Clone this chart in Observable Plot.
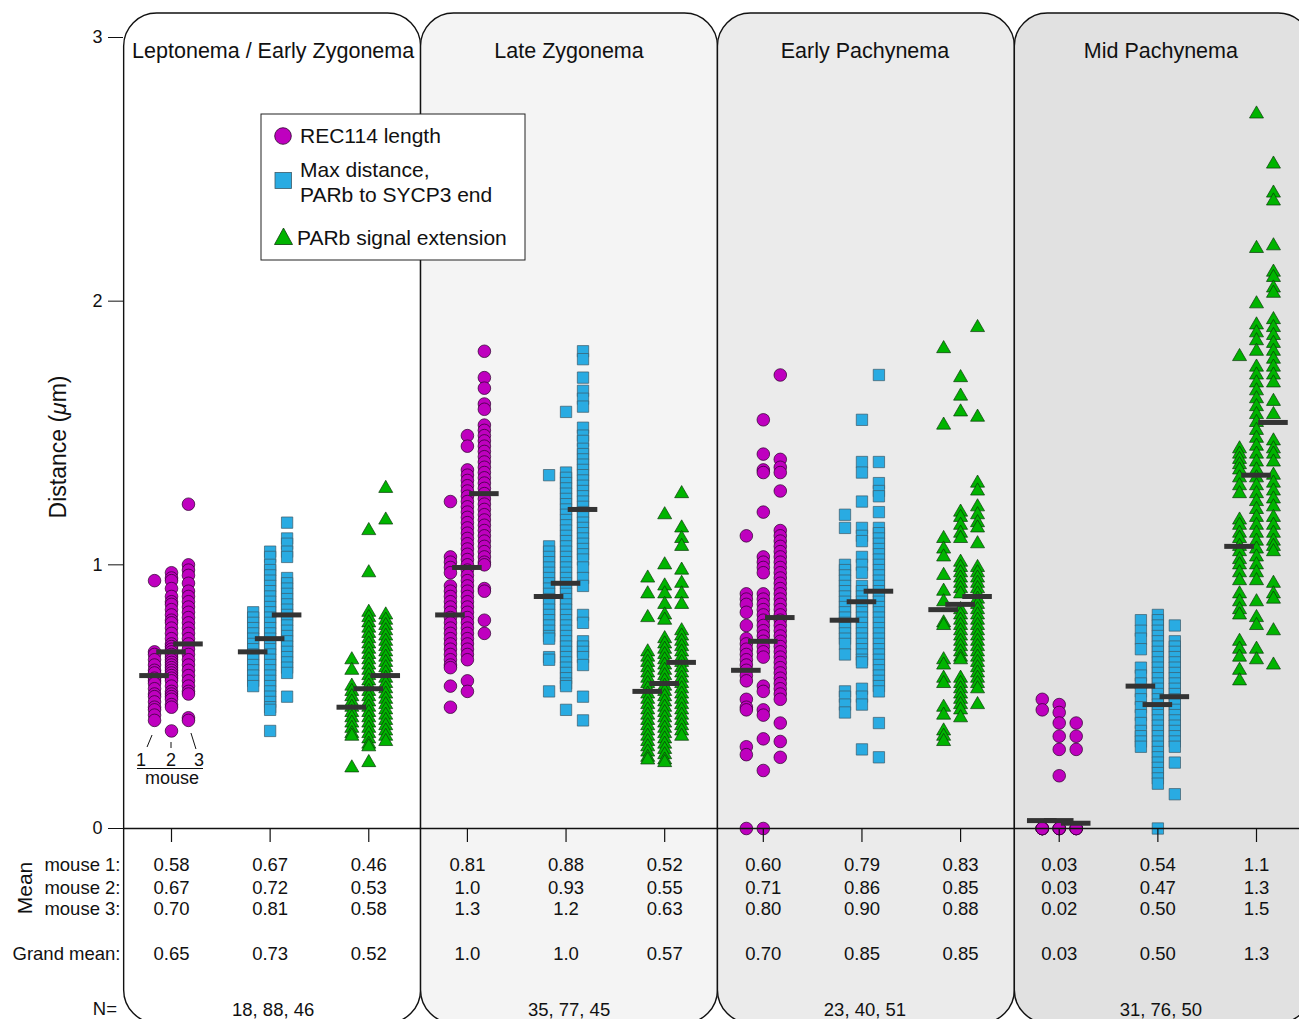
<!DOCTYPE html>
<html>
<head>
<meta charset="utf-8">
<script src="https://cdn.jsdelivr.net/npm/d3@7"></script>
<script src="https://cdn.jsdelivr.net/npm/@observablehq/plot@0.6"></script>
<style>
  html, body { margin: 0; padding: 0; background: #fff; }
  #chart svg { display: block; }
</style>
</head>
<body>
<div id="chart"></div>
<script>
// ---------------- DATA ----------------
const stages = ["Leptonema / Early Zygonema", "Late Zygonema", "Early Pachynema", "Mid Pachynema"];
const measures = ["REC114 length", "Max distance, PARb to SYCP3 end", "PARb signal extension"];
const nLabels = ["18, 88, 46", "35, 77, 45", "23, 40, 51", "31, 76, 50"];
const panelFill = ["#ffffff", "#f4f4f4", "#ebebeb", "#e1e1e1"];

// Each array: [mouse 1 values, mouse 2 values, mouse 3 values] (µm)
const lepREC = [
  [0.94,0.67,0.66,0.64,0.62,0.60,0.59,0.57,0.56,0.55,0.53,0.51,0.50,0.48,0.46,0.45,0.43,0.41],
  [0.97,0.95,0.94,0.91,0.88,0.86,0.85,0.83,0.81,0.79,0.78,0.76,0.74,0.72,0.70,0.69,0.68,0.67,0.66,0.65,0.64,0.63,0.62,0.61,0.60,0.59,0.58,0.57,0.56,0.54,0.52,0.51,0.50,0.49,0.47,0.46,0.37],
  [1.23,1.00,0.98,0.96,0.93,0.90,0.88,0.86,0.84,0.82,0.80,0.78,0.76,0.74,0.72,0.70,0.68,0.66,0.64,0.62,0.60,0.58,0.56,0.54,0.52,0.51,0.42,0.41]
];
const lepSQ = [
  [0.82,0.80,0.78,0.76,0.74,0.72,0.70,0.68,0.66,0.64,0.62,0.60,0.58,0.56,0.54],
  [1.05,1.03,1.00,0.98,0.96,0.94,0.92,0.90,0.88,0.86,0.84,0.82,0.80,0.78,0.76,0.74,0.72,0.70,0.68,0.66,0.64,0.62,0.60,0.58,0.56,0.54,0.52,0.50,0.48,0.46,0.45,0.37],
  [1.16,1.10,1.08,1.05,1.03,0.95,0.93,0.91,0.89,0.87,0.85,0.83,0.81,0.79,0.77,0.75,0.73,0.71,0.69,0.67,0.65,0.63,0.61,0.59,0.50]
];
const lepTR = [
  [0.64,0.60,0.54,0.52,0.50,0.48,0.46,0.44,0.42,0.40,0.38,0.36,0.35,0.23],
  [1.13,0.97,0.82,0.80,0.78,0.76,0.74,0.72,0.70,0.68,0.66,0.64,0.62,0.60,0.58,0.56,0.54,0.52,0.50,0.48,0.46,0.44,0.42,0.40,0.38,0.36,0.34,0.32,0.31,0.25],
  [1.29,1.17,0.81,0.79,0.77,0.75,0.73,0.71,0.69,0.67,0.65,0.63,0.61,0.59,0.57,0.55,0.53,0.51,0.49,0.47,0.45,0.43,0.41,0.39,0.37,0.35,0.33]
];
const lzREC = [
  [1.24,1.03,1.01,0.99,0.97,0.92,0.90,0.88,0.86,0.84,0.82,0.80,0.78,0.76,0.74,0.72,0.70,0.68,0.66,0.64,0.62,0.61,0.54,0.46],
  [1.49,1.45,1.36,1.34,1.32,1.30,1.28,1.26,1.24,1.22,1.20,1.18,1.16,1.14,1.12,1.10,1.08,1.06,1.04,1.02,1.00,0.98,0.96,0.94,0.92,0.90,0.88,0.86,0.84,0.82,0.80,0.78,0.76,0.74,0.72,0.70,0.68,0.66,0.64,0.56,0.52],
  [1.81,1.71,1.67,1.61,1.59,1.53,1.51,1.49,1.47,1.45,1.43,1.41,1.39,1.37,1.35,1.33,1.31,1.29,1.27,1.25,1.23,1.21,1.19,1.17,1.15,1.13,1.11,1.09,1.07,1.05,1.03,1.01,1.00,0.91,0.90,0.79,0.74]
];
const lzSQ = [
  [1.34,1.07,1.05,1.03,1.01,0.99,0.97,0.95,0.93,0.91,0.89,0.87,0.85,0.83,0.81,0.79,0.77,0.75,0.73,0.72,0.65,0.64,0.52],
  [1.58,1.35,1.33,1.31,1.29,1.27,1.25,1.23,1.21,1.19,1.17,1.15,1.13,1.11,1.09,1.07,1.05,1.03,1.01,0.99,0.97,0.95,0.93,0.91,0.89,0.87,0.85,0.83,0.81,0.79,0.77,0.75,0.73,0.71,0.69,0.67,0.65,0.63,0.61,0.59,0.57,0.55,0.54,0.45],
  [1.81,1.78,1.71,1.66,1.63,1.60,1.52,1.49,1.47,1.44,1.42,1.40,1.38,1.36,1.34,1.32,1.30,1.28,1.26,1.24,1.22,1.20,1.18,1.16,1.14,1.12,1.10,1.08,1.06,1.04,1.02,0.99,0.95,0.92,0.81,0.78,0.71,0.69,0.67,0.65,0.62,0.50,0.41]
];
const lzTR = [
  [0.95,0.89,0.80,0.67,0.65,0.63,0.61,0.59,0.57,0.55,0.53,0.51,0.49,0.47,0.45,0.43,0.41,0.39,0.37,0.35,0.33,0.31,0.29,0.27,0.26],
  [1.19,1.00,0.92,0.89,0.85,0.81,0.79,0.72,0.70,0.68,0.66,0.64,0.62,0.60,0.58,0.56,0.54,0.52,0.50,0.48,0.46,0.44,0.42,0.40,0.38,0.36,0.34,0.32,0.30,0.28,0.26,0.25],
  [1.27,1.14,1.10,1.07,0.98,0.93,0.89,0.85,0.75,0.73,0.71,0.69,0.67,0.65,0.63,0.61,0.59,0.57,0.55,0.53,0.51,0.49,0.47,0.45,0.43,0.41,0.39,0.37,0.35]
];
const epREC = [
  [1.11,0.89,0.87,0.85,0.82,0.77,0.72,0.70,0.68,0.66,0.64,0.62,0.60,0.58,0.56,0.49,0.46,0.45,0.31,0.28,0.00],
  [1.55,1.42,1.36,1.35,1.20,1.03,1.01,0.99,0.97,0.89,0.87,0.85,0.83,0.81,0.79,0.77,0.75,0.73,0.71,0.69,0.67,0.65,0.54,0.52,0.45,0.43,0.34,0.22,0.00],
  [1.72,1.40,1.37,1.35,1.28,1.13,1.11,1.09,1.07,1.05,1.03,1.01,0.99,0.97,0.95,0.93,0.91,0.89,0.87,0.85,0.83,0.81,0.79,0.77,0.75,0.73,0.71,0.69,0.67,0.65,0.63,0.61,0.59,0.57,0.55,0.53,0.51,0.49,0.40,0.33,0.27]
];
const epSQ = [
  [1.19,1.14,1.00,0.98,0.96,0.94,0.92,0.90,0.88,0.86,0.84,0.82,0.80,0.78,0.76,0.74,0.72,0.70,0.66,0.52,0.50,0.47,0.44],
  [1.55,1.39,1.35,1.24,1.14,1.11,1.09,1.03,1.00,0.97,0.92,0.90,0.88,0.86,0.84,0.82,0.80,0.78,0.76,0.74,0.72,0.70,0.68,0.66,0.64,0.63,0.53,0.50,0.47,0.30],
  [1.72,1.39,1.31,1.28,1.26,1.20,1.14,1.12,1.10,1.08,1.06,1.04,1.02,1.00,0.98,0.96,0.94,0.92,0.90,0.88,0.86,0.84,0.82,0.80,0.78,0.76,0.74,0.72,0.70,0.68,0.66,0.64,0.62,0.60,0.58,0.56,0.54,0.52,0.40,0.27]
];
const epTR = [
  [1.82,1.53,1.10,1.06,1.03,0.96,0.90,0.86,0.78,0.77,0.64,0.62,0.57,0.55,0.46,0.43,0.37,0.35,0.33],
  [1.71,1.64,1.58,1.20,1.18,1.15,1.12,1.10,1.01,0.99,0.97,0.95,0.93,0.91,0.89,0.83,0.81,0.79,0.77,0.75,0.73,0.71,0.69,0.67,0.65,0.64,0.57,0.55,0.53,0.51,0.49,0.47,0.45,0.42],
  [1.90,1.56,1.31,1.28,1.22,1.19,1.16,1.14,1.08,0.99,0.97,0.95,0.93,0.91,0.89,0.87,0.85,0.83,0.81,0.79,0.77,0.75,0.73,0.71,0.69,0.67,0.65,0.63,0.61,0.59,0.57,0.55,0.53,0.47]
];
const mpREC = [
  [0.49,0.45,0.00,0.00,0.00,0.00,0.00,0.00],
  [0.47,0.44,0.40,0.35,0.30,0.20,0.00,0.00,0.00,0.00],
  [0.40,0.35,0.30,0.00,0.00,0.00,0.00]
];
const mpSQ = [
  [0.79,0.75,0.72,0.68,0.61,0.58,0.55,0.52,0.49,0.46,0.43,0.40,0.37,0.35,0.33,0.31],
  [0.81,0.79,0.77,0.75,0.73,0.71,0.69,0.67,0.65,0.63,0.61,0.59,0.57,0.55,0.53,0.51,0.49,0.47,0.45,0.43,0.41,0.39,0.37,0.35,0.33,0.31,0.29,0.27,0.25,0.23,0.21,0.19,0.17,0.00],
  [0.77,0.71,0.69,0.67,0.65,0.63,0.61,0.59,0.57,0.55,0.53,0.51,0.49,0.47,0.45,0.43,0.41,0.39,0.37,0.35,0.33,0.31,0.25,0.13]
];
const mpTR = [
  [1.79,1.44,1.42,1.40,1.38,1.36,1.33,1.30,1.27,1.17,1.15,1.12,1.10,1.07,1.05,1.02,1.00,0.97,0.94,0.89,0.86,0.83,0.81,0.71,0.68,0.65,0.60,0.56],
  [2.71,2.20,1.99,1.91,1.88,1.85,1.81,1.75,1.72,1.69,1.66,1.63,1.60,1.57,1.54,1.51,1.48,1.45,1.42,1.39,1.36,1.33,1.30,1.27,1.24,1.21,1.18,1.15,1.12,1.09,1.06,1.03,1.00,0.97,0.94,0.86,0.80,0.77,0.68,0.64],
  [2.52,2.41,2.38,2.21,2.11,2.09,2.05,2.03,1.93,1.90,1.87,1.84,1.81,1.78,1.75,1.72,1.69,1.62,1.57,1.47,1.44,1.42,1.39,1.34,1.31,1.28,1.25,1.22,1.18,1.15,1.12,1.09,1.07,1.05,0.93,0.89,0.87,0.75,0.62]
];

// Per-group mouse means (for the bars), 12 groups: stage × measure
const meanBar1 = [0.58,0.67,0.46, 0.81,0.88,0.52, 0.60,0.79,0.83, 0.03,0.54,1.07];
const meanBar2 = [0.67,0.72,0.53, 0.99,0.93,0.55, 0.71,0.86,0.85, 0.03,0.47,1.34];
const meanBar3 = [0.70,0.81,0.58, 1.27,1.21,0.63, 0.80,0.90,0.88, 0.02,0.50,1.54];

// Table labels
const meanLab1 = ["0.58","0.67","0.46","0.81","0.88","0.52","0.60","0.79","0.83","0.03","0.54","1.1"];
const meanLab2 = ["0.67","0.72","0.53","1.0","0.93","0.55","0.71","0.86","0.85","0.03","0.47","1.3"];
const meanLab3 = ["0.70","0.81","0.58","1.3","1.2","0.63","0.80","0.90","0.88","0.02","0.50","1.5"];
const grandLab = ["0.65","0.73","0.52","1.0","1.0","0.57","0.70","0.85","0.85","0.03","0.50","1.3"];
const rowLabels = ["mouse 1:", "mouse 2:", "mouse 3:", "Grand mean:", "N="];

// ---------------- BUILD ----------------
const OFF = 0.172;          // mouse column offset (in group units)
const stageData = [[lepREC, lepSQ, lepTR], [lzREC, lzSQ, lzTR], [epREC, epSQ, epTR], [mpREC, mpSQ, mpTR]];
const pts = [];
stageData.forEach((st, s) => st.forEach((meas, m) => meas.forEach((vals, k) =>
  vals.forEach(v => pts.push({g: s * 3 + m, pos: s * 3 + m + (k - 1) * OFF, v, m})))));
const bars = [];
[meanBar1, meanBar2, meanBar3].forEach((arr, k) => arr.forEach((v, g) => bars.push({g, pos: g + (k - 1) * OFF, v})));
const groups = d3.range(12);
const edge = s => 3 * s - 0.48 + 0.01 * s;   // panel boundaries between stages
const panels = stages.map((name, s) => ({s, x1: edge(s), x2: edge(s + 1), fill: panelFill[s]}));

const FONT = "Liberation Sans, Arial, Helvetica, sans-serif";
const W = 1299, H = 1019;
const rowDy = [-149, -126, -104.5, -60, -4];

const chart = Plot.plot({
  width: W,
  height: H,
  marginTop: 13,
  marginBottom: 0,
  marginLeft: 123,
  marginRight: 0,
  style: {fontFamily: FONT, fontSize: "18px", color: "#111", background: "white"},
  x: {domain: [0, 11], range: [171, 1256], axis: null},
  y: {domain: [0, 3], range: [828, 37], ticks: 3, tickSize: 15, tickPadding: 6, label: null, tickFormat: d => String(d)},
  color: {type: "identity"},
  marks: [
    Plot.rect(panels, {x1: "x1", x2: "x2", fill: "fill", stroke: "#111", strokeWidth: 1.4, rx: 33, ry: 33, insetBottom: -4}),
    Plot.dot(pts.filter(d => d.m === 0), {x: "pos", y: "v", r: 6.3, fill: "#bf00bf", stroke: "#2a002a", strokeWidth: 0.7}),
    Plot.dot(pts.filter(d => d.m === 1), {x: "pos", y: "v", r: 6.4, symbol: "square", fill: "#29abe2", stroke: "#3c5a68", strokeWidth: 0.7}),
    Plot.dot(pts.filter(d => d.m === 2), {x: "pos", y: "v", r: 5.2, symbol: "triangle", fill: "#00b400", stroke: "#0b3a0b", strokeWidth: 0.7}),
    Plot.ruleY(bars, {y: "v", x1: d => d.pos - 0.15, x2: d => d.pos + 0.15, stroke: "#333", strokeWidth: 5}),
    Plot.ruleY([0], {stroke: "#111", strokeWidth: 1.4}),
    Plot.ruleX(groups, {x: d => d, y1: 0, y2: 0, insetBottom: -14, stroke: "#111", strokeWidth: 1.2}),
    // stage titles
    Plot.text(stages, {x: (d, i) => 3 * i + 1, text: d => d, frameAnchor: "top", dy: 29, dx: 3, fontSize: 21.5, fill: "#111"}),
    // mean table
    Plot.text(groups, {x: d => d, text: d => meanLab1[d], frameAnchor: "bottom", dy: rowDy[0], fontSize: 18.5, fill: "#111"}),
    Plot.text(groups, {x: d => d, text: d => meanLab2[d], frameAnchor: "bottom", dy: rowDy[1], fontSize: 18.5, fill: "#111"}),
    Plot.text(groups, {x: d => d, text: d => meanLab3[d], frameAnchor: "bottom", dy: rowDy[2], fontSize: 18.5, fill: "#111"}),
    Plot.text(groups, {x: d => d, text: d => grandLab[d], frameAnchor: "bottom", dy: rowDy[3], fontSize: 18.5, fill: "#111"}),
    Plot.text(nLabels, {x: (d, i) => 3 * i + 1, text: d => d, frameAnchor: "bottom", dy: rowDy[4], dx: 3, fontSize: 18.5, fill: "#111"}),
    Plot.text(rowLabels.slice(0, 4), {text: d => d, frameAnchor: "bottom-left", textAnchor: "end", dx: -3, fontSize: 18.5, fill: "#111"})
  ]
});

// Row-label offsets (Plot dy is constant per mark, so set per element)
d3.select(chart).selectAll("g[aria-label='text']").filter((d, i, n) => i === n.length - 1)
  .selectAll("text").each(function(d, i) {
    const t = d3.select(this);
    const tr = t.attr("transform") || "";
    t.attr("transform", tr + ` translate(0,${rowDy[i]})`);
  });

const svg = d3.select(chart);
// "N=" label
svg.append("text").attr("x", 117).attr("y", 1009).attr("dy", "0.32em").attr("text-anchor", "end")
  .attr("font-size", 18.5).attr("fill", "#111").text(rowLabels[4]);

// Rotated labels
svg.append("text").attr("transform", "translate(66,447) rotate(-90)").attr("text-anchor", "middle")
  .attr("font-size", 23).attr("fill", "#111")
  .call(t => { t.append("tspan").text("Distance ("); t.append("tspan").attr("font-style", "italic").text("\u03bc"); t.append("tspan").text("m)"); });
svg.append("text").attr("transform", "translate(32,888) rotate(-90)").attr("text-anchor", "middle")
  .attr("font-size", 21).attr("fill", "#111").text("Mean");

// Mouse annotation under group 0
const xs = chart.scale("x");
const ann = svg.append("g").attr("stroke", "#111").attr("stroke-width", 1);
const c0 = xs.apply(0);
ann.append("line").attr("x1", xs.apply(-OFF) - 2).attr("y1", 735).attr("x2", xs.apply(-OFF) - 7).attr("y2", 747);
ann.append("line").attr("x1", c0).attr("y1", 742).attr("x2", c0).attr("y2", 748);
ann.append("line").attr("x1", xs.apply(OFF) + 3).attr("y1", 733).attr("x2", xs.apply(OFF) + 8).attr("y2", 749);
ann.append("line").attr("x1", c0 - 34).attr("y1", 768.5).attr("x2", c0 + 32).attr("y2", 768.5);
const annT = svg.append("g").attr("font-size", 18).attr("fill", "#111").attr("text-anchor", "middle");
annT.append("text").attr("x", c0 - 30).attr("y", 766).text("1");
annT.append("text").attr("x", c0).attr("y", 766).text("2");
annT.append("text").attr("x", c0 + 28).attr("y", 766).text("3");
annT.append("text").attr("x", c0 + 1).attr("y", 784).text("mouse");

// Legend
const lg = svg.append("g").attr("font-size", 21).attr("fill", "#111").attr("text-anchor", "start");
lg.append("rect").attr("x", 261).attr("y", 114).attr("width", 264).attr("height", 146)
  .attr("fill", "white").attr("stroke", "#222").attr("stroke-width", 1);
lg.append("circle").attr("cx", 283).attr("cy", 136).attr("r", 8.3)
  .attr("fill", "#bf00bf").attr("stroke", "#2a002a").attr("stroke-width", 0.8);
lg.append("rect").attr("x", 275).attr("y", 172.5).attr("width", 16.5).attr("height", 16)
  .attr("fill", "#29abe2").attr("stroke", "#3c5a68").attr("stroke-width", 0.8);
lg.append("path").attr("d", "M283.5,228 L292.5,244.5 L274.5,244.5 Z")
  .attr("fill", "#00b400").attr("stroke", "#0b3a0b").attr("stroke-width", 0.8);
lg.append("text").attr("x", 300).attr("y", 142.5).text(measures[0]);
lg.append("text").attr("x", 300).attr("y", 177).text("Max distance,");
lg.append("text").attr("x", 300).attr("y", 202).text("PARb to SYCP3 end");
lg.append("text").attr("x", 297).attr("y", 245).text(measures[2]);

document.getElementById("chart").appendChild(chart);
</script>
</body>
</html>
